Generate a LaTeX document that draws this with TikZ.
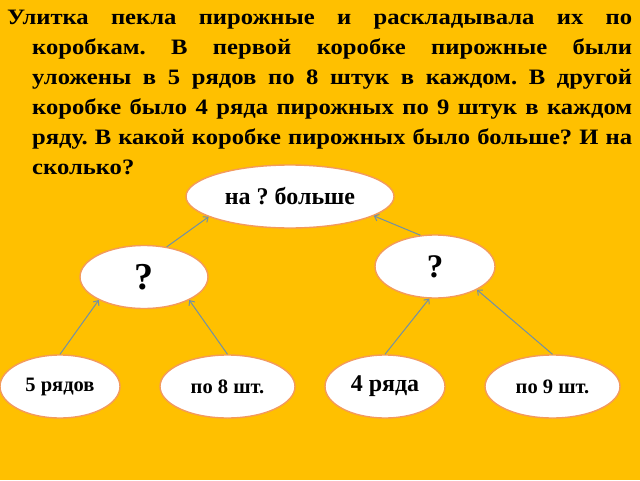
\documentclass[tikz,border=0pt]{standalone}
\usepackage{fontspec}
\setmainfont{Liberation Serif}
\newfontfamily\taskfont[FakeStretch=1.12]{Liberation Serif}
\usetikzlibrary{shapes.geometric,arrows.meta}
\definecolor{bgcol}{HTML}{FFC000}
\definecolor{ringcol}{HTML}{F39A5C}
\definecolor{linkcol}{HTML}{7090A8}
\tikzset{
  oval/.style={ellipse, draw=ringcol, line width=1.4pt, fill=white, inner sep=0pt, minimum height=63pt, font=\bfseries},
  link/.style={draw=linkcol, line width=1pt, -{Straight Barb[length=4pt,width=7pt,line width=1pt]}}
}
\begin{document}
\frenchspacing
\begin{tikzpicture}[x=1pt,y=-1pt]
\fill[bgcol] (0,0) rectangle (640,480);
\useasboundingbox (0,0) rectangle (640,480);
\node[anchor=north west, inner sep=0pt, text width=625pt, align=justify] (task) at (7,10) {%
  \taskfont\fontsize{22}{30}\selectfont\bfseries\frenchspacing
  \hangindent=25pt\hangafter=1\parfillskip=0pt plus 1fil
  Улитка пекла пирожные и раскладывала их по\linebreak
  коробкам. В первой коробке пирожные были\linebreak
  уложены в 5 рядов по 8 штук в каждом. В другой\linebreak
  коробке было 4 ряда пирожных по 9 штук в каждом\linebreak
  ряду. В какой коробке пирожных было больше? И на\linebreak
  сколько?\par};
\node[oval, minimum width=208pt, font=\bfseries\fontsize{24}{26}\selectfont] (top) at (290,196.5) {на ? больше};
\node[oval, minimum width=128pt, font=\bfseries\fontsize{38}{40}\selectfont] (q1) at (144,277) {?};
\node[oval, minimum width=120pt, font=\bfseries\fontsize{33}{40}\selectfont] (q2) at (435,266.5) {?};
\node[oval, minimum width=120pt, font=\bfseries\fontsize{20.5}{22}\selectfont] (b1) at (60,386.5) {5 рядов};
\node[oval, minimum width=135pt, font=\bfseries\fontsize{20.5}{22}\selectfont] (b2) at (227.5,386.5) {по 8 шт.};
\node[oval, minimum width=120pt, font=\bfseries\fontsize{24}{26}\selectfont] (b3) at (385,386.5) {4 ряда};
\node[oval, minimum width=135pt, font=\bfseries\fontsize{20.5}{22}\selectfont] (b4) at (552.5,386.5) {по 9 шт.};
\draw[link] (b1.north) -- (q1.207);
\draw[link] (b2.north) -- (q1.333);
\draw[link] (b3.north) -- (q2.260);
\draw[link] (b4.north) -- (q2.331);
\draw[link] (q1.53) -- (top.194);
\draw[link] (q2.115) -- (top.347);
\end{tikzpicture}
\end{document}
